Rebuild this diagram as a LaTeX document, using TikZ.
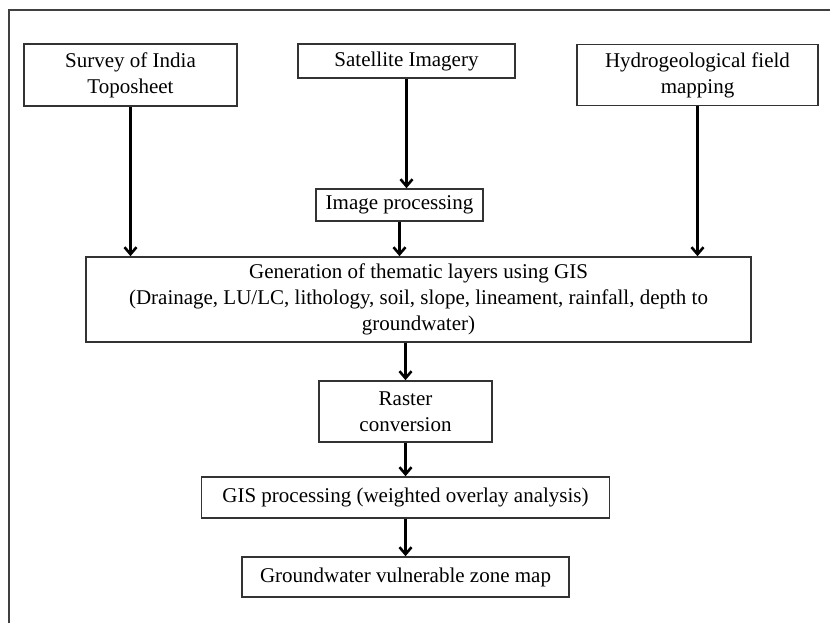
\documentclass[tikz,border=0pt]{standalone}
\usepackage{fontspec}
\setmainfont{Liberation Serif}
\usepackage{tikz}
\usetikzlibrary{shapes, arrows, arrows.meta, positioning}
\definecolor{boxgray}{gray}{0.2}
\definecolor{framegray}{gray}{0.25}
\tikzstyle{block} = [rectangle, draw=boxgray, line width=1.6pt, align=center,
    text centered, inner sep=0pt, font=\fontsize{21}{26}\selectfont]
\tikzstyle{line} = [draw, -{Straight Barb[length=7pt, width=12pt]}, line width=2.6pt]

\begin{document}
\begin{tikzpicture}[x=1pt, y=-1pt]
        \useasboundingbox (0,0) rectangle (830,623);
        \draw [framegray, line width=2.8pt] (9,10) rectangle (900,700);
        % Place nodes
        \node [block, minimum width=213pt, minimum height=62pt] at (130.5,75) (survey)
            {Survey of India\\Toposheet};
        \node [block, minimum width=217pt, minimum height=34pt] at (406.5,61) (satellite)
            {Satellite Imagery};
        \node [block, minimum width=241pt, minimum height=61pt, right of=survey, node distance=567pt] (hydro)
            {Hydrogeological field\\mapping};
        \node [block, minimum width=167pt, minimum height=32pt] at (399.5,205) (imgproc)
            {Image processing};
        \node [block, minimum width=665pt, minimum height=85pt] at (418.5,299.5) (layers)
            {Generation of thematic layers using GIS\\
             (Drainage, LU/LC, lithology, soil, slope, lineament, rainfall, depth to\\
             groundwater)};
        \node [block, minimum width=173pt, minimum height=61pt] at (405.5,411.5) (raster)
            {Raster\\conversion};
        \node [block, minimum width=408pt, minimum height=41pt, below of=raster, node distance=86pt] (overlay)
            {GIS processing (weighted overlay analysis)};
        \node [block, minimum width=327pt, minimum height=40pt, below of=overlay, node distance=79.5pt] (zonemap)
            {Groundwater vulnerable zone map};
        % Draw edges
        \path [line] (survey.south) -- (survey.south |- layers.north);
        \path [line] (satellite.south) -- (satellite.south |- imgproc.north);
        \path [line] (hydro.south) -- (hydro.south |- layers.north);
        \path [line] (imgproc.south) -- (imgproc.south |- layers.north);
        \path [line] (layers.south -| raster) -- (raster);
        \path [line] (raster) -- (overlay);
        \path [line] (overlay) -- (zonemap);
    \end{tikzpicture}
\end{document}
